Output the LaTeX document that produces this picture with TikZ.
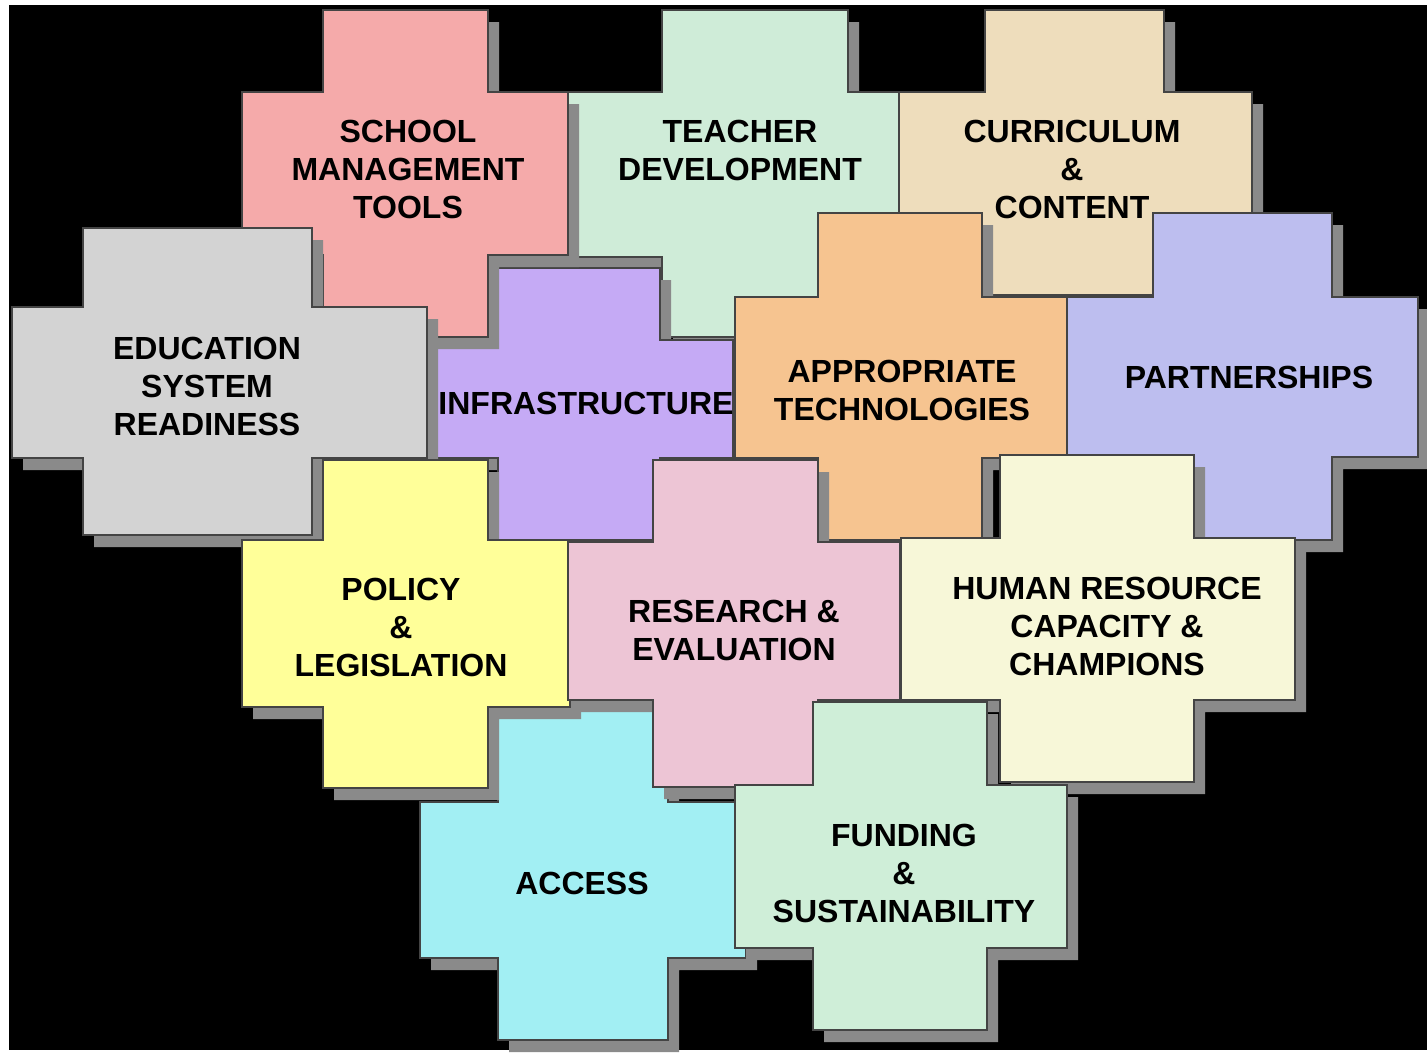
\documentclass[tikz,border=0pt]{standalone}
\usepackage{fontspec}
\setsansfont{Liberation Sans}

\definecolor{schoolcol}{HTML}{F5AAAA}
\definecolor{teachercol}{HTML}{CFECD8}
\definecolor{curriccol}{HTML}{EEDDBC}
\definecolor{educol}{HTML}{D3D3D3}
\definecolor{infracol}{HTML}{C5AAF5}
\definecolor{techcol}{HTML}{F6C490}
\definecolor{partnercol}{HTML}{BDBEEF}
\definecolor{policycol}{HTML}{FFFF99}
\definecolor{researchcol}{HTML}{EDC5D5}
\definecolor{humancol}{HTML}{F7F7D8}
\definecolor{accesscol}{HTML}{A2EFF3}
\definecolor{fundingcol}{HTML}{CFEED8}
\definecolor{shadowgray}{HTML}{8A8A8A}
\definecolor{edgegray}{HTML}{444444}

% cross piece: colour, vertical arm x1 x2 top bottom, horizontal arm x1 x2 top bottom
\newcommand{\puzzlepiece}[9]{%
  \fill[piece shadow] (#2,#4) -- (#3,#4) -- (#3,#8) -- (#7,#8) -- (#7,#9) -- (#3,#9) -- (#3,#5) -- (#2,#5) -- (#2,#9) -- (#6,#9) -- (#6,#8) -- (#2,#8) -- cycle;%
  \filldraw[piece, fill=#1] (#2,#4) -- (#3,#4) -- (#3,#8) -- (#7,#8) -- (#7,#9) -- (#3,#9) -- (#3,#5) -- (#2,#5) -- (#2,#9) -- (#6,#9) -- (#6,#8) -- (#2,#8) -- cycle;%
}

\begin{document}
\begin{tikzpicture}[x=0.01cm, y=-0.01cm,
    piece/.style={draw=edgegray, line width=0.45pt},
    piece shadow/.style={fill=shadowgray, shift={(11,12)}},
    label text/.style={font=\sffamily\bfseries\fontsize{9.1}{10.8}\selectfont,
      align=center, inner sep=0pt}]

  \useasboundingbox (0,0) rectangle (1427,1054);

  % Black background
  \fill[black] (9,5) rectangle (1427,1050);

  % Pieces, drawn from back to front
  \puzzlepiece{teachercol}{662}{848}{10}{337}{565}{900}{92}{257}
  \puzzlepiece{curriccol}{985}{1164}{10}{295}{899}{1252}{92}{255}
  \puzzlepiece{infracol}{498}{660}{268}{540}{437}{733}{340}{458}
  \puzzlepiece{schoolcol}{323}{488}{10}{337}{242}{568}{92}{255}
  \puzzlepiece{educol}{83}{312}{228}{535}{12}{427}{307}{458}
  \puzzlepiece{accesscol}{498}{668}{708}{1040}{420}{746}{802}{958}
  \puzzlepiece{policycol}{323}{488}{460}{788}{242}{570}{540}{707}
  \puzzlepiece{techcol}{818}{982}{213}{540}{735}{1067}{297}{458}
  \puzzlepiece{researchcol}{653}{818}{460}{787}{568}{900}{542}{700}
  \puzzlepiece{partnercol}{1153}{1332}{213}{540}{1067}{1418}{297}{457}
  \puzzlepiece{humancol}{1000}{1194}{455}{782}{901}{1295}{538}{700}
  \puzzlepiece{fundingcol}{813}{987}{702}{1030}{735}{1067}{785}{948}

  % Labels
  \node[label text] (school) at (408,169) {SCHOOL\\MANAGEMENT\\TOOLS};
  \node[label text] (teacher) at (740,150) {TEACHER\\DEVELOPMENT};
  \node[label text] (curriculum) at (1072,169) {CURRICULUM\\\&\\CONTENT};
  \node[label text] (education) at (207,386) {EDUCATION\\SYSTEM\\READINESS};
  \node[label text] (infra) at (586,403) {INFRASTRUCTURE};
  \node[label text] (tech) at (902,390) {APPROPRIATE\\TECHNOLOGIES};
  \node[label text] (partner) at (1249,377) {PARTNERSHIPS};
  \node[label text] (policy) at (401,627) {POLICY\\\&\\LEGISLATION};
  \node[label text] (research) at (734,630) {RESEARCH \&\\EVALUATION};
  \node[label text] (human) at (1107,626) {HUMAN RESOURCE\\CAPACITY \&\\CHAMPIONS};
  \node[label text] (access) at (582,883) {ACCESS};
  \node[label text] (funding) at (904,873) {FUNDING\\\&\\SUSTAINABILITY};
\end{tikzpicture}
\end{document}
